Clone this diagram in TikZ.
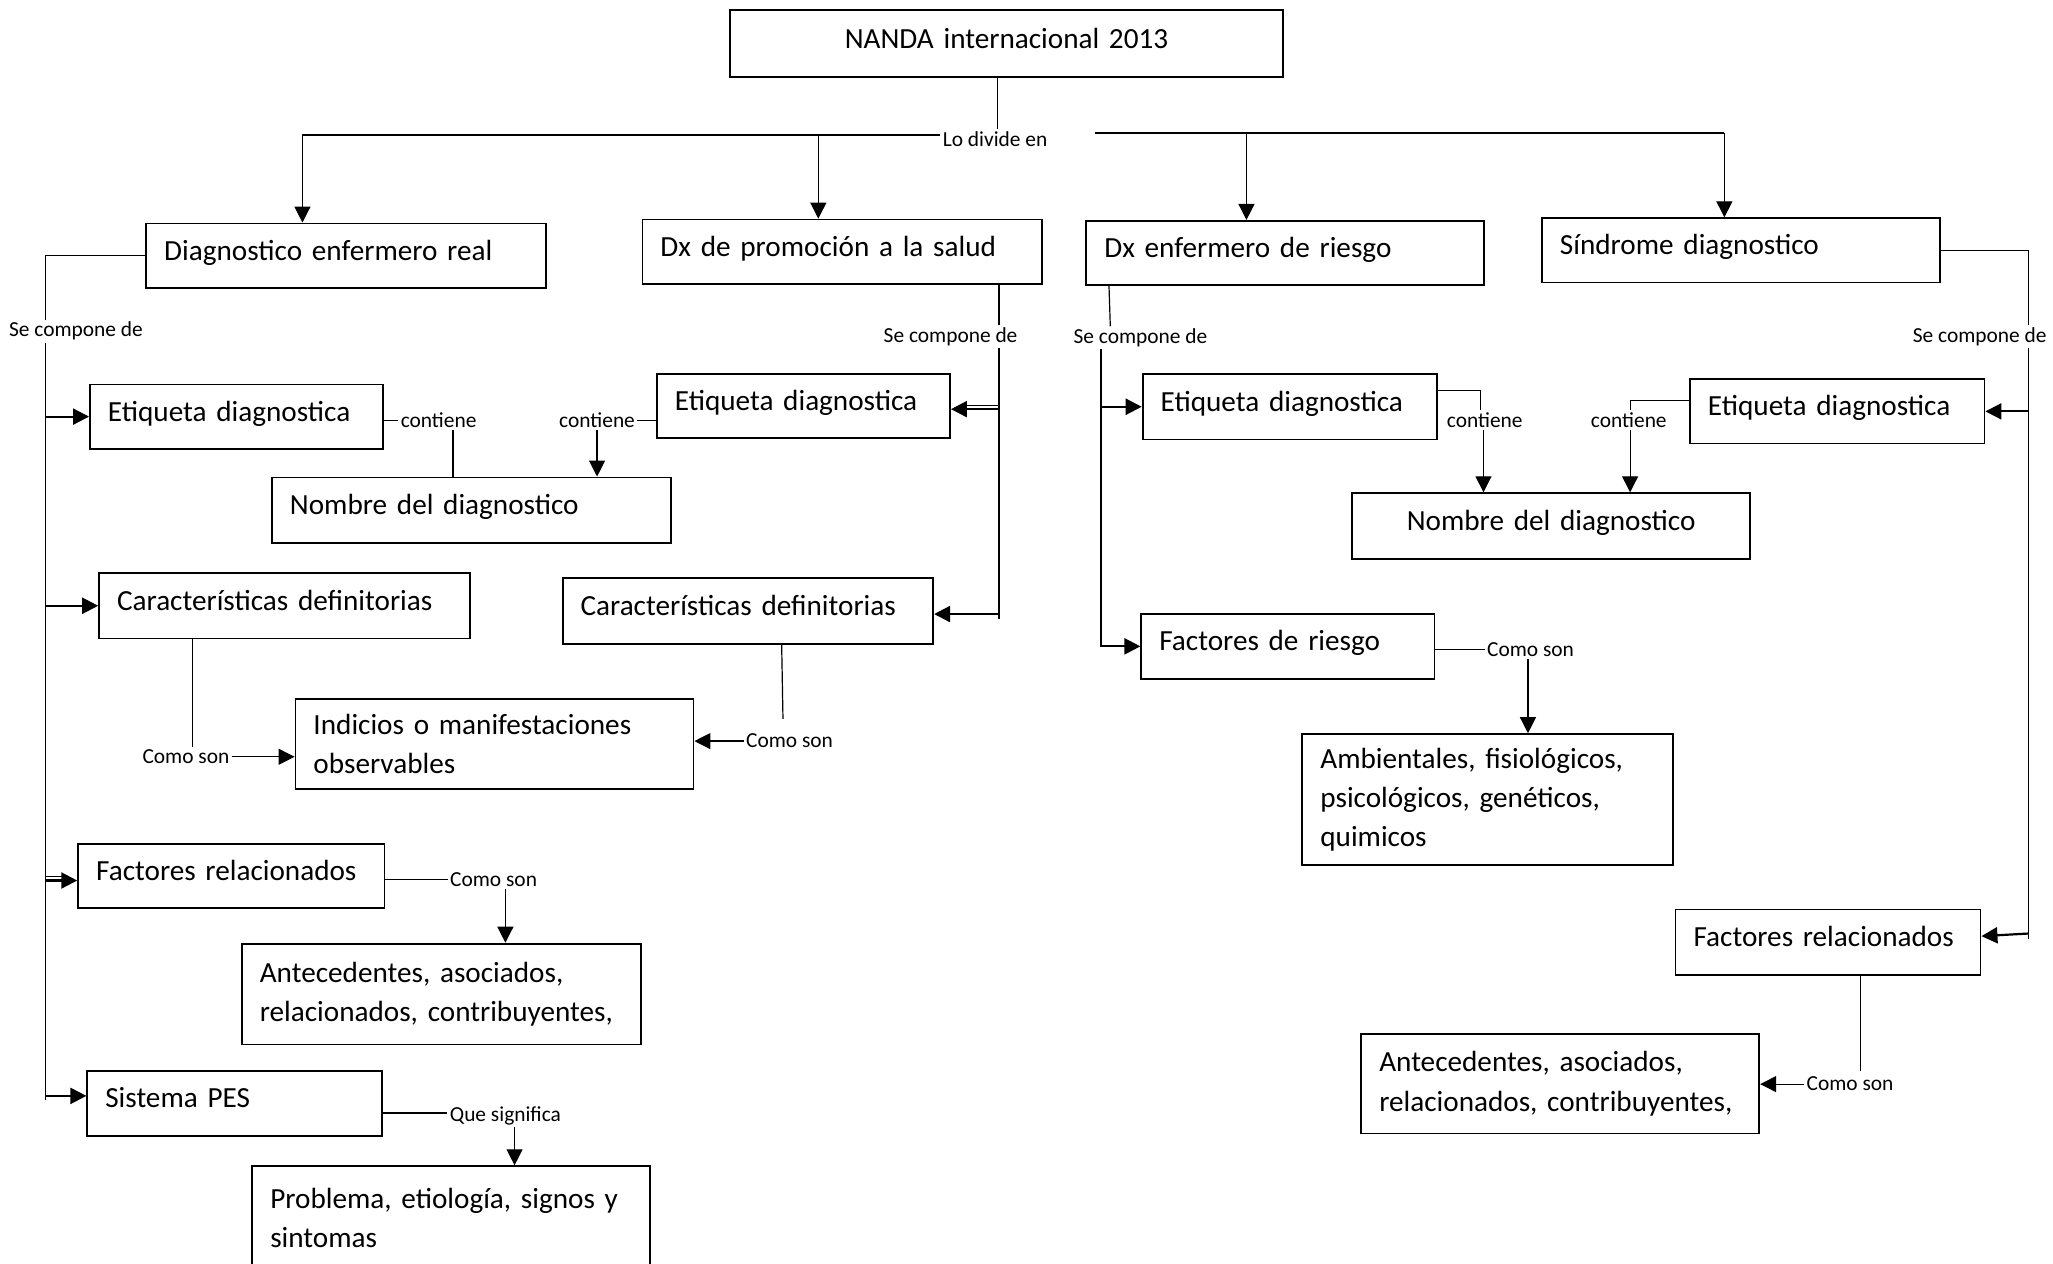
\documentclass[tikz,border=0pt]{standalone}
\usepackage{fontspec}
\setmainfont{Carlito}
\usetikzlibrary{arrows.meta}
\newcommand\bxfont{\fontsize{14.6}{19.6}\selectfont}
\newcommand\lbfont{\fontsize{10.7}{12}\selectfont}
\tikzset{
  box/.style={draw, line width=0.9pt, inner xsep=9pt, inner ysep=0pt, anchor=north west, font=\bxfont, align=left},
  one/.style={text height=10pt, text depth=5.4pt},
  lbl/.style={font=\lbfont, inner sep=1pt},
  ln/.style={line width=0.6pt},
  lnT/.style={line width=0.9pt},
  arr/.style={ln, -{Triangle[length=8pt,width=8pt]}},
  arrT/.style={line width=1.1pt, -{Triangle[length=8pt,width=8pt]}},
}
\begin{document}
\begin{tikzpicture}[x=0.65465pt, y=-0.65465pt]
\fill[white] (0,0) rectangle (1568,965);
\useasboundingbox (0,0) rectangle (1568,965);

% boxes
\node[box, one, align=center, minimum width=276.3pt, minimum height=33.4pt, text width=258.3pt] (nanda) at (557,7) {NANDA internacional 2013};
\node[box, one, minimum width=199.7pt, minimum height=32.1pt, text width=181.7pt] (real) at (111,170) {Diagnostico enfermero real};
\node[box, one, minimum width=199.7pt, minimum height=32.1pt, text width=181.7pt] (promo) at (490,167) {Dx de promoción a la salud};
\node[box, one, minimum width=199.0pt, minimum height=32.1pt, text width=181.0pt] (riesgo) at (829,168) {Dx enfermero de riesgo};
\node[box, one, minimum width=199.0pt, minimum height=32.1pt, text width=181.0pt] (sindrome) at (1177,166) {Síndrome diagnostico};

\node[box, one, minimum width=146.6pt, minimum height=32.1pt, text width=128.6pt] (etq1) at (68,293) {Etiqueta diagnostica};
\node[box, one, minimum width=199.7pt, minimum height=32.7pt, text width=181.7pt] (nom1) at (207,364) {Nombre del diagnostico};
\node[box, one, minimum width=185.3pt, minimum height=32.7pt, text width=167.3pt] (car1) at (75,437) {Características definitorias};
\node[box, minimum width=199.0pt, minimum height=45.2pt, text width=181.0pt] (ind) at (225,533) {Indicios o manifestaciones\\observables};
\node[box, one, minimum width=153.2pt, minimum height=32.1pt, text width=135.2pt] (fac1) at (59,644) {Factores relacionados};
\node[box, minimum width=199.7pt, minimum height=50.4pt, text width=181.7pt] (ant1) at (184,720) {Antecedentes, asociados,\\relacionados, contribuyentes,};
\node[box, one, minimum width=147.3pt, minimum height=32.7pt, text width=129.3pt] (pes) at (66,817) {Sistema PES};
\node[box, minimum width=199.0pt, minimum height=52pt, text width=181.0pt] (prob) at (192,890) {Problema, etiología, signos y\\sintomas};

\node[box, one, minimum width=146.6pt, minimum height=32.1pt, text width=128.6pt] (etq2) at (501,285) {Etiqueta diagnostica};
\node[box, one, minimum width=185.3pt, minimum height=32.7pt, text width=167.3pt] (car2) at (429,441) {Características definitorias};

\node[box, one, minimum width=147.3pt, minimum height=32.7pt, text width=129.3pt] (etq3) at (872,285) {Etiqueta diagnostica};
\node[box, one, align=center, minimum width=199.0pt, minimum height=32.7pt, text width=181.0pt] (nom2) at (1032,376) {Nombre del diagnostico};
\node[box, one, minimum width=146.6pt, minimum height=32.7pt, text width=128.6pt] (facr) at (871,468) {Factores de riesgo};
\node[box, minimum width=185.3pt, minimum height=65.5pt, text width=167.3pt] (amb) at (994,560) {Ambientales, fisiológicos,\\psicológicos, genéticos,\\quimicos};

\node[box, one, minimum width=147.3pt, minimum height=32.1pt, text width=129.3pt] (etq4) at (1290,289) {Etiqueta diagnostica};
\node[box, one, minimum width=152.5pt, minimum height=32.7pt, text width=134.5pt] (fac2) at (1279,694) {Factores relacionados};
\node[box, minimum width=199.0pt, minimum height=49.8pt, text width=181.0pt] (ant2) at (1039,789) {Antecedentes, asociados,\\relacionados, contribuyentes,};

% labels
\node[lbl] (lodiv) at (760,106) {Lo divide en};
\node[lbl] (sc1) at (58,253) {Se compone de};
\node[lbl] (sc2) at (726,257) {Se compone de};
\node[lbl] (sc3) at (871,258) {Se compone de};
\node[lbl] (sc4) at (1512,257) {Se compone de};
\node[lbl] (ct1) at (335,321) {contiene};
\node[lbl] (ct2) at (456,321) {contiene};
\node[lbl] (ct3) at (1134,321) {contiene};
\node[lbl] (ct4) at (1244,321) {contiene};
\node[lbl] (cs1) at (142,578) {Como son};
\node[lbl] (cs2) at (603,566) {Como son};
\node[lbl] (cs3) at (377,672) {Como son};
\node[lbl] (cs4) at (1169,496) {Como son};
\node[lbl] (cs5) at (1413,828) {Como son};
\node[lbl] (qs) at (386,852) {Que significa};

% top connectors
\coordinate (ja) at (231,103);
\coordinate (jb) at (625,103);
\coordinate (jc) at (836,101.5);
\coordinate (jd) at (952,101.5);
\coordinate (je) at (1317,101.5);
\draw[ln] (nanda.south -| 762,0) -- (lodiv.north -| 762,0);
\draw[lnT] (lodiv.west |- ja) -- (ja);
\draw[lnT] (jc) -- (je);
\draw[arr] (ja) -- (real.north -| ja);
\draw[arr] (jb) -- (promo.north -| jb);
\draw[arr] (jd) -- (riesgo.north -| jd);
\draw[arr] (je) -- (sindrome.north -| je);

% left column
\coordinate (L) at (35,0);
\draw[ln] (real.west) -| (sc1.north -| L);
\draw[ln] (sc1.south -| L) -- (L |- 0,840);
\draw[arrT] (L |- etq1.west) -- (etq1.west);
\draw[arrT] (L |- car1.west) -- (car1.west);
\draw[ln] (L |- 0,669.5) -- (53,669.5);
\draw[arrT] (L |- 0,672.5) -- (fac1.west |- 0,672.5);
\draw[arrT] (L |- 0,837) -- (pes.west |- 0,837);
\draw[ln] (etq1.east |- ct1) -- (ct1.west);
\draw[ln] (ct1.south -| 346,0) -- (nom1.north -| 346,0);
\draw[ln] (car1.south -| 147,0) -- (cs1.north -| 147,0);
\draw[arr] (cs1.east) -- (ind.west |- cs1);
\draw[ln] (fac1.east |- cs3) -- (cs3.west);
\draw[arr] (cs3.south -| 386,0) -- (ant1.north -| 386,0);
\draw[ln] (pes.east |- 0,850) -- (qs.west |- 0,850);
\draw[arr] (qs.south -| 393,0) -- (prob.north -| 393,0);

% middle-left column
\coordinate (M) at (763,0);
\draw[ln] (promo.south -| M) -- (sc2.north -| M);
\draw[ln] (sc2.south -| M) -- (M |- 0,473);
\draw[ln] (M |- 0,309.5) -- (733,309.5);
\draw[arrT] (M |- 0,312.5) -- (etq2.east |- 0,312.5);
\draw[arrT] (M |- 0,469) -- (car2.east |- 0,469);
\draw[ln] (etq2.west |- ct2) -- (ct2.east);
\draw[arr] (ct2.south -| 456,0) -- (nom1.north -| 456,0);
\draw[ln] (car2.south -| 597,0) -- (598,549);
\draw[arr] (cs2.west) -- (ind.east |- cs2);

% middle-right column
\coordinate (R) at (841,0);
\draw[ln] (riesgo.south -| 847,0) -- (sc3.north -| 848,0);
\draw[arrT] (sc3.south -| R) |- (facr.west);
\draw[arrT] (R |- etq3.west) -- (etq3.west);
\draw[ln] (etq3.east |- 0,298) -| (ct3.north -| 1131,0);
\draw[arr] (ct3.south -| 1133,0) -- (nom2.north -| 1133,0);
\draw[ln] (facr.east |- cs4) -- (cs4.west);
\draw[arr] (cs4.south -| 1167,0) -- (amb.north -| 1167,0);

% right column
\coordinate (S) at (1549,0);
\draw[ln] (sindrome.east) -| (sc4.north -| S);
\draw[ln] (sc4.south -| S) -- (S |- 0,717);
\draw[arrT] (S |- etq4.east) -- (etq4.east);
\draw[arrT] (S |- 0,713) -- (fac2.east |- 0,715);
\draw[ln] (etq4.west |- 0,306) -| (ct4.north -| 1245,0);
\draw[arr] (ct4.south -| 1245,0) -- (nom2.north -| 1245,0);
\draw[ln] (fac2.south -| 1421,0) -- (1421,818);
\draw[arr] (cs5.west) -- (ant2.east |- cs5);
\end{tikzpicture}
\end{document}
